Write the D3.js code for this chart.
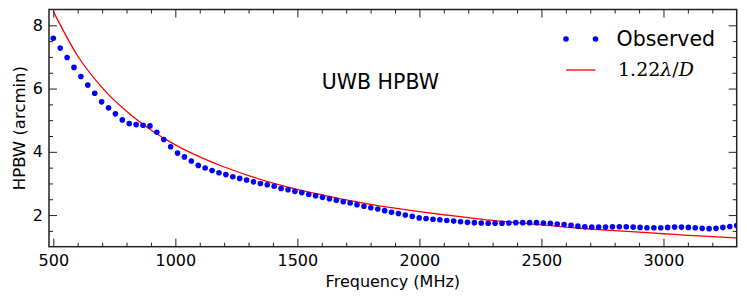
<!DOCTYPE html>
<html>
<head>
<meta charset="utf-8">
<script src="https://cdn.jsdelivr.net/npm/d3@7"></script>
<style>
  body { margin: 0; background: #fff; }
  svg { display: block; font-family: "DejaVu Sans", sans-serif; }
</style>
</head>
<body>
<div id="chart"></div>
<script>
// observed beam width, 100 channels from 500 to 3300 MHz
const freq = [
  500.0, 528.3, 556.6, 584.8, 613.1, 641.4, 669.7, 698.0, 726.3, 754.5,
  782.8, 811.1, 839.4, 867.7, 896.0, 924.2, 952.5, 980.8, 1009.1, 1037.4,
  1065.7, 1093.9, 1122.2, 1150.5, 1178.8, 1207.1, 1235.4, 1263.6, 1291.9, 1320.2,
  1348.5, 1376.8, 1405.1, 1433.3, 1461.6, 1489.9, 1518.2, 1546.5, 1574.7, 1603.0,
  1631.3, 1659.6, 1687.9, 1716.2, 1744.4, 1772.7, 1801.0, 1829.3, 1857.6, 1885.9,
  1914.1, 1942.4, 1970.7, 1999.0, 2027.3, 2055.6, 2083.8, 2112.1, 2140.4, 2168.7,
  2197.0, 2225.3, 2253.5, 2281.8, 2310.1, 2338.4, 2366.7, 2394.9, 2423.2, 2451.5,
  2479.8, 2508.1, 2536.4, 2564.6, 2592.9, 2621.2, 2649.5, 2677.8, 2706.1, 2734.3,
  2762.6, 2790.9, 2819.2, 2847.5, 2875.8, 2904.0, 2932.3, 2960.6, 2988.9, 3017.2,
  3045.5, 3073.7, 3102.0, 3130.3, 3158.6, 3186.9, 3215.2, 3243.4, 3271.7, 3300.0
];
const observed = [
  7.59, 7.28, 6.98, 6.67, 6.38, 6.11, 5.85, 5.58, 5.39, 5.20,
  5.01, 4.89, 4.86, 4.84, 4.82, 4.62, 4.39, 4.16, 3.96, 3.84,
  3.71, 3.57, 3.49, 3.41, 3.34, 3.28, 3.21, 3.16, 3.11, 3.05,
  3.00, 2.96, 2.91, 2.84, 2.80, 2.75, 2.71, 2.65, 2.61, 2.56,
  2.52, 2.47, 2.42, 2.38, 2.33, 2.28, 2.23, 2.19, 2.14, 2.09,
  2.05, 2.00, 1.96, 1.91, 1.89, 1.87, 1.85, 1.83, 1.81, 1.79,
  1.77, 1.76, 1.75, 1.74, 1.74, 1.74, 1.75, 1.76, 1.76, 1.76,
  1.76, 1.75, 1.74, 1.72, 1.70, 1.68, 1.65, 1.63, 1.62, 1.62,
  1.62, 1.63, 1.63, 1.63, 1.62, 1.61, 1.60, 1.60, 1.60, 1.61,
  1.62, 1.62, 1.61, 1.60, 1.58, 1.57, 1.58, 1.61, 1.64, 1.67
];

// 1.22 lambda / D curve, read every 100 MHz
const modelFreq = [
  500, 600, 700, 800, 900, 1000, 1100, 1200, 1300, 1400,
  1500, 1600, 1700, 1800, 1900, 2000, 2100, 2200, 2300, 2400,
  2500, 2600, 2700, 2800, 2900, 3000, 3100, 3200, 3300
];
const modelHpbw = [
  8.44, 7.03, 6.03, 5.28, 4.69, 4.22, 3.84, 3.52, 3.25, 3.01,
  2.81, 2.64, 2.48, 2.34, 2.22, 2.11, 2.01, 1.92, 1.83, 1.76,
  1.69, 1.62, 1.56, 1.51, 1.46, 1.41, 1.36, 1.32, 1.28
];

const xTicks = [500, 1000, 1500, 2000, 2500, 3000];
const xMinor = [600, 700, 800, 900, 1100, 1200, 1300, 1400, 1600, 1700, 1800, 1900,
  2100, 2200, 2300, 2400, 2600, 2700, 2800, 2900, 3100, 3200];
const yTicks = [2, 4, 6, 8];
const yMinor = [1.5, 2.5, 3, 3.5, 4.5, 5, 5.5, 6.5, 7, 7.5];

const dim = { width: 747, height: 301, left: 49, right: 736.7, top: 9.5, bottom: 246.7 };
const major = 8, minor = 4;

const x = d3.scaleLinear().domain([482.4, 3300]).range([dim.left, dim.right]);
const y = d3.scaleLinear().domain([1, 8.5]).range([dim.bottom, dim.top]);

const svg = d3.select('#chart')
  .append('svg')
    .attr('width', dim.width)
    .attr('height', dim.height);

svg.append('clipPath')
    .attr('id', 'plot-clip')
  .append('rect')
    .attr('x', dim.left)
    .attr('y', dim.top)
    .attr('width', dim.right - dim.left)
    .attr('height', dim.bottom - dim.top);

const plot = svg.append('g').attr('clip-path', 'url(#plot-clip)');

plot.append('path')
  .datum(modelFreq.map((f, i) => [f, modelHpbw[i]]))
  .attr('fill', 'none')
  .attr('stroke', '#ff0000')
  .attr('stroke-width', 1.3)
  .attr('d', d3.line()
    .x(d => x(d[0]))
    .y(d => y(d[1]))
    .curve(d3.curveMonotoneX));

plot.selectAll('.dot')
  .data(freq.map((f, i) => [f, observed[i]]))
  .enter()
  .append('circle')
    .attr('class', 'dot')
    .attr('fill', '#0000ff')
    .attr('r', 2.8)
    .attr('cx', d => x(d[0]))
    .attr('cy', d => y(d[1]));

// ticks point inward on all four sides
const addAxis = (axisFn, scale, values, size, transform, labels) => {
  const g = svg.append('g')
    .attr('transform', transform)
    .call(axisFn(scale)
      .tickValues(values)
      .tickSizeInner(-size)
      .tickSizeOuter(0)
      .tickPadding(axisFn === d3.axisBottom ? 7.5 : 6)
      .tickFormat(labels ? d3.format('d') : ''));
  g.select('.domain').remove();
  g.selectAll('.tick line').attr('stroke', '#222').attr('stroke-width', 1);
  g.selectAll('.tick text')
    .attr('fill', '#000')
    .attr('font-size', '16px')
    .attr('font-family', '"DejaVu Sans", sans-serif');
  return g;
};

addAxis(d3.axisBottom, x, xTicks, major, `translate(0, ${dim.bottom})`, true);
addAxis(d3.axisBottom, x, xMinor, minor, `translate(0, ${dim.bottom})`, false);
addAxis(d3.axisTop, x, xTicks, major, `translate(0, ${dim.top})`, false);
addAxis(d3.axisTop, x, xMinor, minor, `translate(0, ${dim.top})`, false);
addAxis(d3.axisLeft, y, yTicks, major, `translate(${dim.left}, 0)`, true);
addAxis(d3.axisLeft, y, yMinor, minor, `translate(${dim.left}, 0)`, false);
addAxis(d3.axisRight, y, yTicks, major, `translate(${dim.right}, 0)`, false);
addAxis(d3.axisRight, y, yMinor, minor, `translate(${dim.right}, 0)`, false);

svg.append('rect')
  .attr('x', dim.left)
  .attr('y', dim.top)
  .attr('width', dim.right - dim.left)
  .attr('height', dim.bottom - dim.top)
  .attr('fill', 'none')
  .attr('stroke', '#222')
  .attr('stroke-width', 1.5);

svg.append('text')
  .attr('x', (dim.left + dim.right) / 2)
  .attr('y', 286.7)
  .attr('text-anchor', 'middle')
  .attr('font-size', '16px')
  .text('Frequency (MHz)');

svg.append('text')
  .attr('transform', `translate(25, ${(dim.top + dim.bottom) / 2}) rotate(-90)`)
  .attr('text-anchor', 'middle')
  .attr('font-size', '16.5px')
  .text('HPBW (arcmin)');

svg.append('text')
  .attr('x', x(1600))
  .attr('y', y(6))
  .attr('font-size', '20.5px')
  .text('UWB HPBW');

// legend, no frame
const legend = svg.append('g').attr('transform', 'translate(566, 0)');

legend.selectAll('circle')
  .data([0, 29.5])
  .enter()
  .append('circle')
    .attr('cx', d => d)
    .attr('cy', 39)
    .attr('r', 2.8)
    .attr('fill', '#0000ff');

legend.append('text')
  .attr('x', 50.5)
  .attr('y', 46)
  .attr('font-size', '20.5px')
  .text('Observed');

legend.append('line')
  .attr('x1', 0)
  .attr('x2', 29.5)
  .attr('y1', 70)
  .attr('y2', 70)
  .attr('stroke', '#ff0000')
  .attr('stroke-width', 1.3);

const math = legend.append('text')
  .attr('x', 52)
  .attr('y', 76)
  .attr('font-size', '19px')
  .attr('font-family', '"DejaVu Serif", "Liberation Serif", serif');
math.append('tspan').text('1.22');
math.append('tspan').attr('font-style', 'italic').text('λ');
math.append('tspan').text('/');
math.append('tspan').attr('font-style', 'italic').text('D');
</script>
</body>
</html>
